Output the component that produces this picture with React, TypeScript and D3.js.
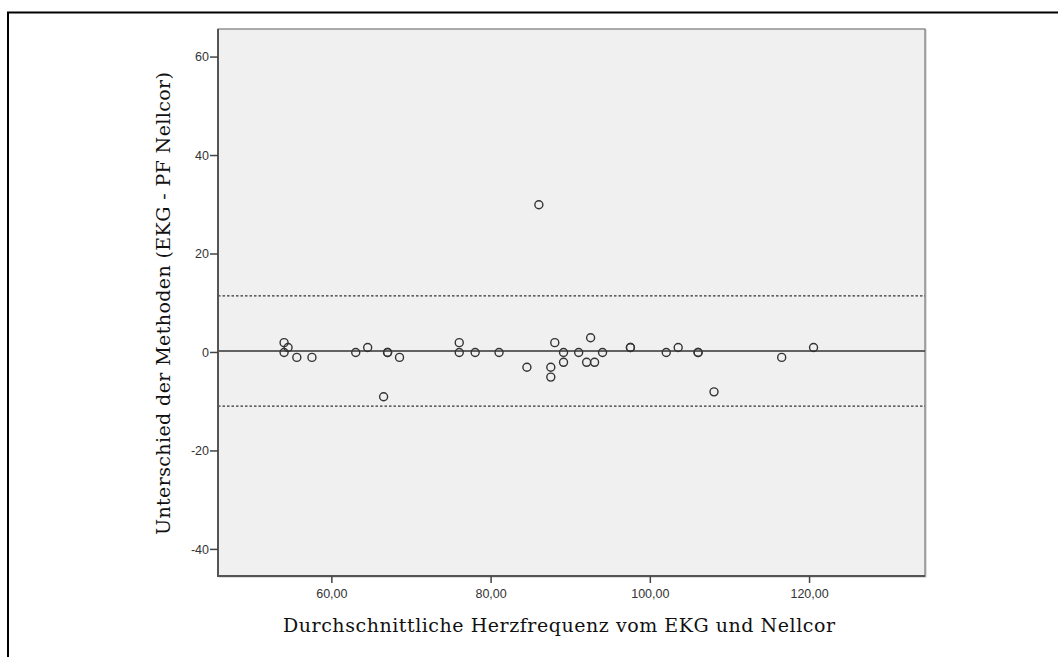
import React from 'react'
import * as d3 from 'd3'

// Bland-Altman: mean heart rate (EKG & Nellcor) vs. difference
const meanHR = [
  54.0, 54.5, 54.0, 55.6, 57.5, 63.0, 64.5, 67.0, 67.0, 68.5, 66.5,
  76.0, 76.0, 78.0, 81.0, 84.5, 87.5, 87.5, 88.0, 89.1, 89.1, 91.0, 92.0, 93.0, 92.5, 94.0,
  97.5, 97.5, 102.0, 103.5, 106.0, 106.0, 108.0, 116.5, 120.5, 86.0,
]
const diff = [
  2, 1, 0, -1, -1, 0, 1, 0, 0, -1, -9,
  2, 0, 0, 0, -3, -3, -5, 2, 0, -2, 0, -2, -2, 3, 0,
  1, 1, 0, 1, 0, 0, -8, -1, 1, 30,
]
const meanDiff = 0.3
const upperLimit = 11.5
const lowerLimit = -10.9
const xTicks = [60, 80, 100, 120]
const yTicks = [-40, -20, 0, 20, 40, 60]

const xTitle = 'Durchschnittliche Herzfrequenz vom EKG und Nellcor'
const yTitle = 'Unterschied der Methoden (EKG - PF Nellcor)'

const width = 1058
const height = 657
const plot = { left: 218, top: 29, right: 925, bottom: 576 }

const deLocale = d3.formatLocale({
  decimal: ',',
  thousands: '.',
  grouping: [3],
  currency: ['', ' €'],
})
const fmtX = deLocale.format('.2f')

const App = () => {
  const x = d3.scaleLinear().domain([45.7, 134.5]).range([plot.left, plot.right])
  const y = d3.scaleLinear().domain([-45.4, 65.7]).range([plot.bottom, plot.top])

  const tickFont = '"Liberation Sans", Arial, sans-serif'
  const titleFont = '"DejaVu Serif", "Liberation Serif", serif'

  return (
    <svg width={width} height={height} style={{ position: 'absolute', left: 0, top: 0 }}>
      <rect x={0} y={0} width={width} height={height} fill="#fff" />
      {/* outer frame, runs off the picture */}
      <rect x={8} y={12.5} width={width + 20} height={height + 20} fill="none" stroke="#000" strokeWidth={2} />

      {/* plot area */}
      <rect
        x={plot.left + 1}
        y={plot.top + 1}
        width={plot.right - plot.left}
        height={plot.bottom - plot.top}
        fill="none"
        stroke="#bbb"
        strokeWidth={1}
      />
      <rect
        x={plot.left}
        y={plot.top}
        width={plot.right - plot.left}
        height={plot.bottom - plot.top}
        fill="#f0f0f0"
        stroke="#777"
        strokeWidth={1.2}
      />

      {/* reference lines */}
      {[upperLimit, lowerLimit].map((v, i) => (
        <line
          key={i}
          x1={plot.left}
          x2={plot.right}
          y1={y(v)}
          y2={y(v)}
          stroke="#333"
          strokeWidth={1.2}
          strokeDasharray="2.5,2"
        />
      ))}
      <line x1={plot.left} x2={plot.right} y1={y(meanDiff)} y2={y(meanDiff)} stroke="#333" strokeWidth={1.5} />

      {/* points */}
      {meanHR.map((m, i) => (
        <circle key={i} cx={x(m)} cy={y(diff[i])} r={4} fill="none" stroke="#333" strokeWidth={1.4} />
      ))}

      {/* axes */}
      <line x1={plot.left} x2={plot.left} y1={plot.top} y2={plot.bottom + 1} stroke="#555" strokeWidth={2} />
      <line x1={plot.left - 1} x2={plot.right} y1={plot.bottom} y2={plot.bottom} stroke="#555" strokeWidth={2} />

      {yTicks.map((t) => (
        <g key={t} transform={`translate(0,${y(t)})`}>
          <line x1={plot.left - 8} x2={plot.left} stroke="#444" strokeWidth={1.5} />
          <text
            x={plot.left - 9}
            dy="0.35em"
            textAnchor="end"
            fontFamily={tickFont}
            fontSize={12.5}
            fill="#333"
          >
            {t}
          </text>
        </g>
      ))}

      {xTicks.map((t) => (
        <g key={t} transform={`translate(${x(t)},0)`}>
          <line y1={plot.bottom} y2={plot.bottom + 7} stroke="#444" strokeWidth={1.5} />
          <text
            y={plot.bottom + 22}
            textAnchor="middle"
            fontFamily={tickFont}
            fontSize={12.5}
            fill="#333"
          >
            {fmtX(t)}
          </text>
        </g>
      ))}

      {/* titles */}
      <text
        x={283}
        y={632}
        fontFamily={titleFont}
        fontSize={19}
        fill="#111"
        textLength={552}
        lengthAdjust="spacing"
      >
        {xTitle}
      </text>
      <text
        transform="translate(170,535) rotate(-90)"
        fontFamily={titleFont}
        fontSize={19}
        fill="#111"
        textLength={463}
        lengthAdjust="spacing"
      >
        {yTitle}
      </text>
    </svg>
  )
}

export default App
